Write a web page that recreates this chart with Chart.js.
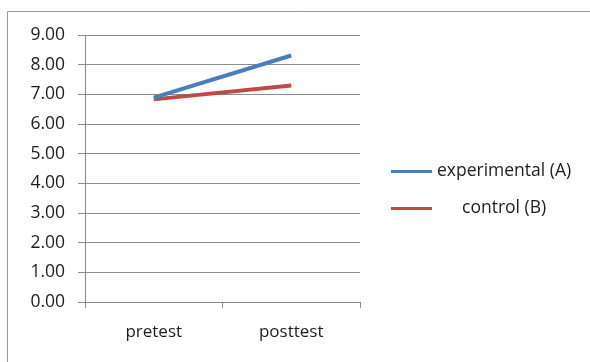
<!DOCTYPE html>
<html>
<head>
<meta charset="utf-8">
<script src="https://cdn.jsdelivr.net/npm/chart.js@4/dist/chart.umd.min.js"></script>
<style>
  html, body { margin: 0; padding: 0; background: #fff; }
  canvas { display: block; }
</style>
</head>
<body>
<canvas id="c" width="590" height="362"></canvas>
<script>
// Mean scores per test phase
const categories = ['pretest', 'posttest'];
const experimentalA = [6.89, 8.31];
const controlB = [6.83, 7.30];
const seriesNames = ['experimental (A)', 'control (B)'];
const yTicks = [0, 1, 2, 3, 4, 5, 6, 7, 8, 9];

const FONT = '"Open Sans", "Liberation Sans", sans-serif';
const TEXT = '#1c1c24';
const GRID = '#8c8c8c';

// Frame around the chart and the legend on the right
const framePlugin = {
  id: 'frame',
  beforeDraw(chart) {
    const ctx = chart.ctx;
    ctx.save();
    ctx.strokeStyle = '#9a9a9a';
    ctx.lineWidth = 1;
    ctx.beginPath();
    ctx.moveTo(7.5, 362);
    ctx.lineTo(7.5, 11.5);
    ctx.lineTo(590, 11.5);
    ctx.stroke();
    ctx.restore();
  },
  afterDraw(chart) {
    const ctx = chart.ctx;
    ctx.save();
    ctx.font = '17.5px ' + FONT;
    ctx.textBaseline = 'middle';
    ctx.fillStyle = TEXT;
    const rows = [
      { y: 171.5, textX: 437 },
      { y: 208.5, textX: 462 }
    ];
    chart.data.datasets.forEach((ds, i) => {
      const r = rows[i];
      ctx.strokeStyle = ds.borderColor;
      ctx.lineWidth = 3;
      ctx.beginPath();
      ctx.moveTo(391, r.y);
      ctx.lineTo(432, r.y);
      ctx.stroke();
      ctx.fillText(ds.label, r.textX, r.y);
    });
    ctx.restore();
  }
};

new Chart(document.getElementById('c'), {
  type: 'line',
  data: {
    labels: categories,
    datasets: [
      { label: seriesNames[0], data: experimentalA, borderColor: '#4a7ebb', borderWidth: 4, pointRadius: 0, tension: 0 },
      { label: seriesNames[1], data: controlB, borderColor: '#be4b48', borderWidth: 4, pointRadius: 0, tension: 0 }
    ]
  },
  options: {
    responsive: false,
    animation: false,
    layout: { padding: { left: 0, right: 230, top: 35, bottom: 0 } },
    plugins: { legend: { display: false }, tooltip: { enabled: false } },
    scales: {
      x: {
        offset: true,
        grid: { offset: true, drawOnChartArea: false, drawTicks: true, tickLength: 6, color: GRID },
        border: { color: GRID },
        ticks: { color: TEXT, font: { family: FONT, size: 17 }, padding: 14 },
        afterFit(scale) { scale.height = 60; }
      },
      y: {
        min: 0,
        max: 9,
        afterBuildTicks(scale) { scale.ticks = yTicks.map(v => ({ value: v })); },
        grid: { color: GRID, tickLength: 7 },
        border: { color: GRID },
        ticks: {
          color: TEXT,
          font: { family: FONT, size: 17.5 },
          padding: 13,
          callback: v => Number(v).toFixed(2)
        },
        afterFit(scale) { scale.width = 85; }
      }
    }
  },
  plugins: [framePlugin]
});
</script>
</body>
</html>
